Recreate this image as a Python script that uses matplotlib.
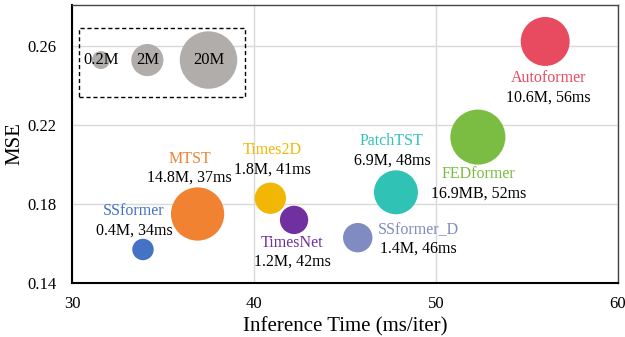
import matplotlib
matplotlib.use("Agg")
import matplotlib.pyplot as plt
from matplotlib.patches import Rectangle

plt.rcParams['font.family'] = ['Liberation Serif', 'DejaVu Serif']

models = ["Autoformer", "FEDformer", "PatchTST", "SSformer_D", "TimesNet", "Times2D", "MTST", "SSformer"]
infer_ms = [56.0, 52.3, 47.8, 45.7, 42.2, 40.9, 36.9, 33.9]
mse = [0.2625, 0.214, 0.186, 0.163, 0.172, 0.183, 0.175, 0.157]
params_m = [10.6, 16.9, 6.9, 1.4, 1.2, 1.8, 14.8, 0.4]
value_labels = ["10.6M, 56ms", "16.9MB, 52ms", "6.9M, 48ms", "1.4M, 46ms",
                "1.2M, 42ms", "1.8M, 41ms", "14.8M, 37ms", "0.4M, 34ms"]
colors = ["#E84B5F", "#7BBD42", "#2FC2B5", "#7F8BC1", "#7030A0", "#F2B705", "#F08232", "#4472C4"]
legend_params = [0.2, 2, 20]
legend_labels = ["0.2M", "2M", "20M"]

# label offsets (pixels): (dx, dy_name, dy_value)
offsets = [(3, -37, -56), (1, -37, -57), (-4, 51, 32), (61, 8, -11),
           (-2, -23, -42), (2, 48, 29), (-8, 55, 36), (-9, 38, 19)]

DPI = 100
PT = 72.0 / DPI


def radius_px(p):
    return 9.0 * (p / 0.2) ** 0.252


def size_pts2(p):
    return (2 * radius_px(p) * PT) ** 2


fig = plt.figure(figsize=(6.25, 3.37), dpi=DPI)
ax = fig.add_axes([72 / 625, 54 / 337, 546 / 625, 278 / 337])

ax.set_xlim(30, 60)
ax.set_ylim(0.14, 0.281)
ax.set_xticks([30, 40, 50, 60])
ax.set_yticks([0.14, 0.18, 0.22, 0.26])
ax.set_yticklabels(["0.14", "0.18", "0.22", "0.26"])
ax.grid(True, color="#D9D9D9", linewidth=1.0)
ax.set_axisbelow(True)
ax.tick_params(length=0, labelsize=12)
ax.tick_params(axis="y", pad=11)
ax.tick_params(axis="x", pad=9)

for s in ["top", "right"]:
    ax.spines[s].set_color("#444444")
    ax.spines[s].set_linewidth(1.0)
ax.spines["left"].set_color("black")
ax.spines["left"].set_linewidth(1.5)
ax.spines["bottom"].set_color("black")
ax.spines["bottom"].set_linewidth(1.5)

ax.scatter(infer_ms, mse, s=[size_pts2(p) for p in params_m], c=colors,
           linewidths=0, zorder=3)

for i, m in enumerate(models):
    dx, dyn, dyv = offsets[i]
    ax.annotate(m, (infer_ms[i], mse[i]), xytext=(dx * PT, dyn * PT),
                textcoords="offset points", ha="center", va="center",
                fontsize=11.5, color=colors[i], zorder=4)
    ax.annotate(value_labels[i], (infer_ms[i], mse[i]), xytext=(dx * PT, dyv * PT),
                textcoords="offset points", ha="center", va="center",
                fontsize=11.5, color="black", zorder=4)

# size legend
leg_x = [0.053, 0.138, 0.25]
leg_y = 0.802
ax.scatter(leg_x, [leg_y] * 3, s=[size_pts2(p) for p in legend_params],
           c="#B1ADAB", linewidths=0, transform=ax.transAxes, zorder=3)
for x, t in zip(leg_x, legend_labels):
    ax.text(x, leg_y, t, transform=ax.transAxes, ha="center", va="center",
            fontsize=12, color="black", zorder=4)
ax.add_patch(Rectangle((0.013, 0.669), 0.303, 0.248, transform=ax.transAxes,
                       fill=False, edgecolor="black", linestyle=(0, (3, 2)),
                       linewidth=1.0, zorder=4))

ax.set_xlabel("Inference Time (ms/iter)", fontsize=15, labelpad=4)
ax.set_ylabel("MSE", fontsize=15, labelpad=2)

fig.savefig("out.png", dpi=DPI)
